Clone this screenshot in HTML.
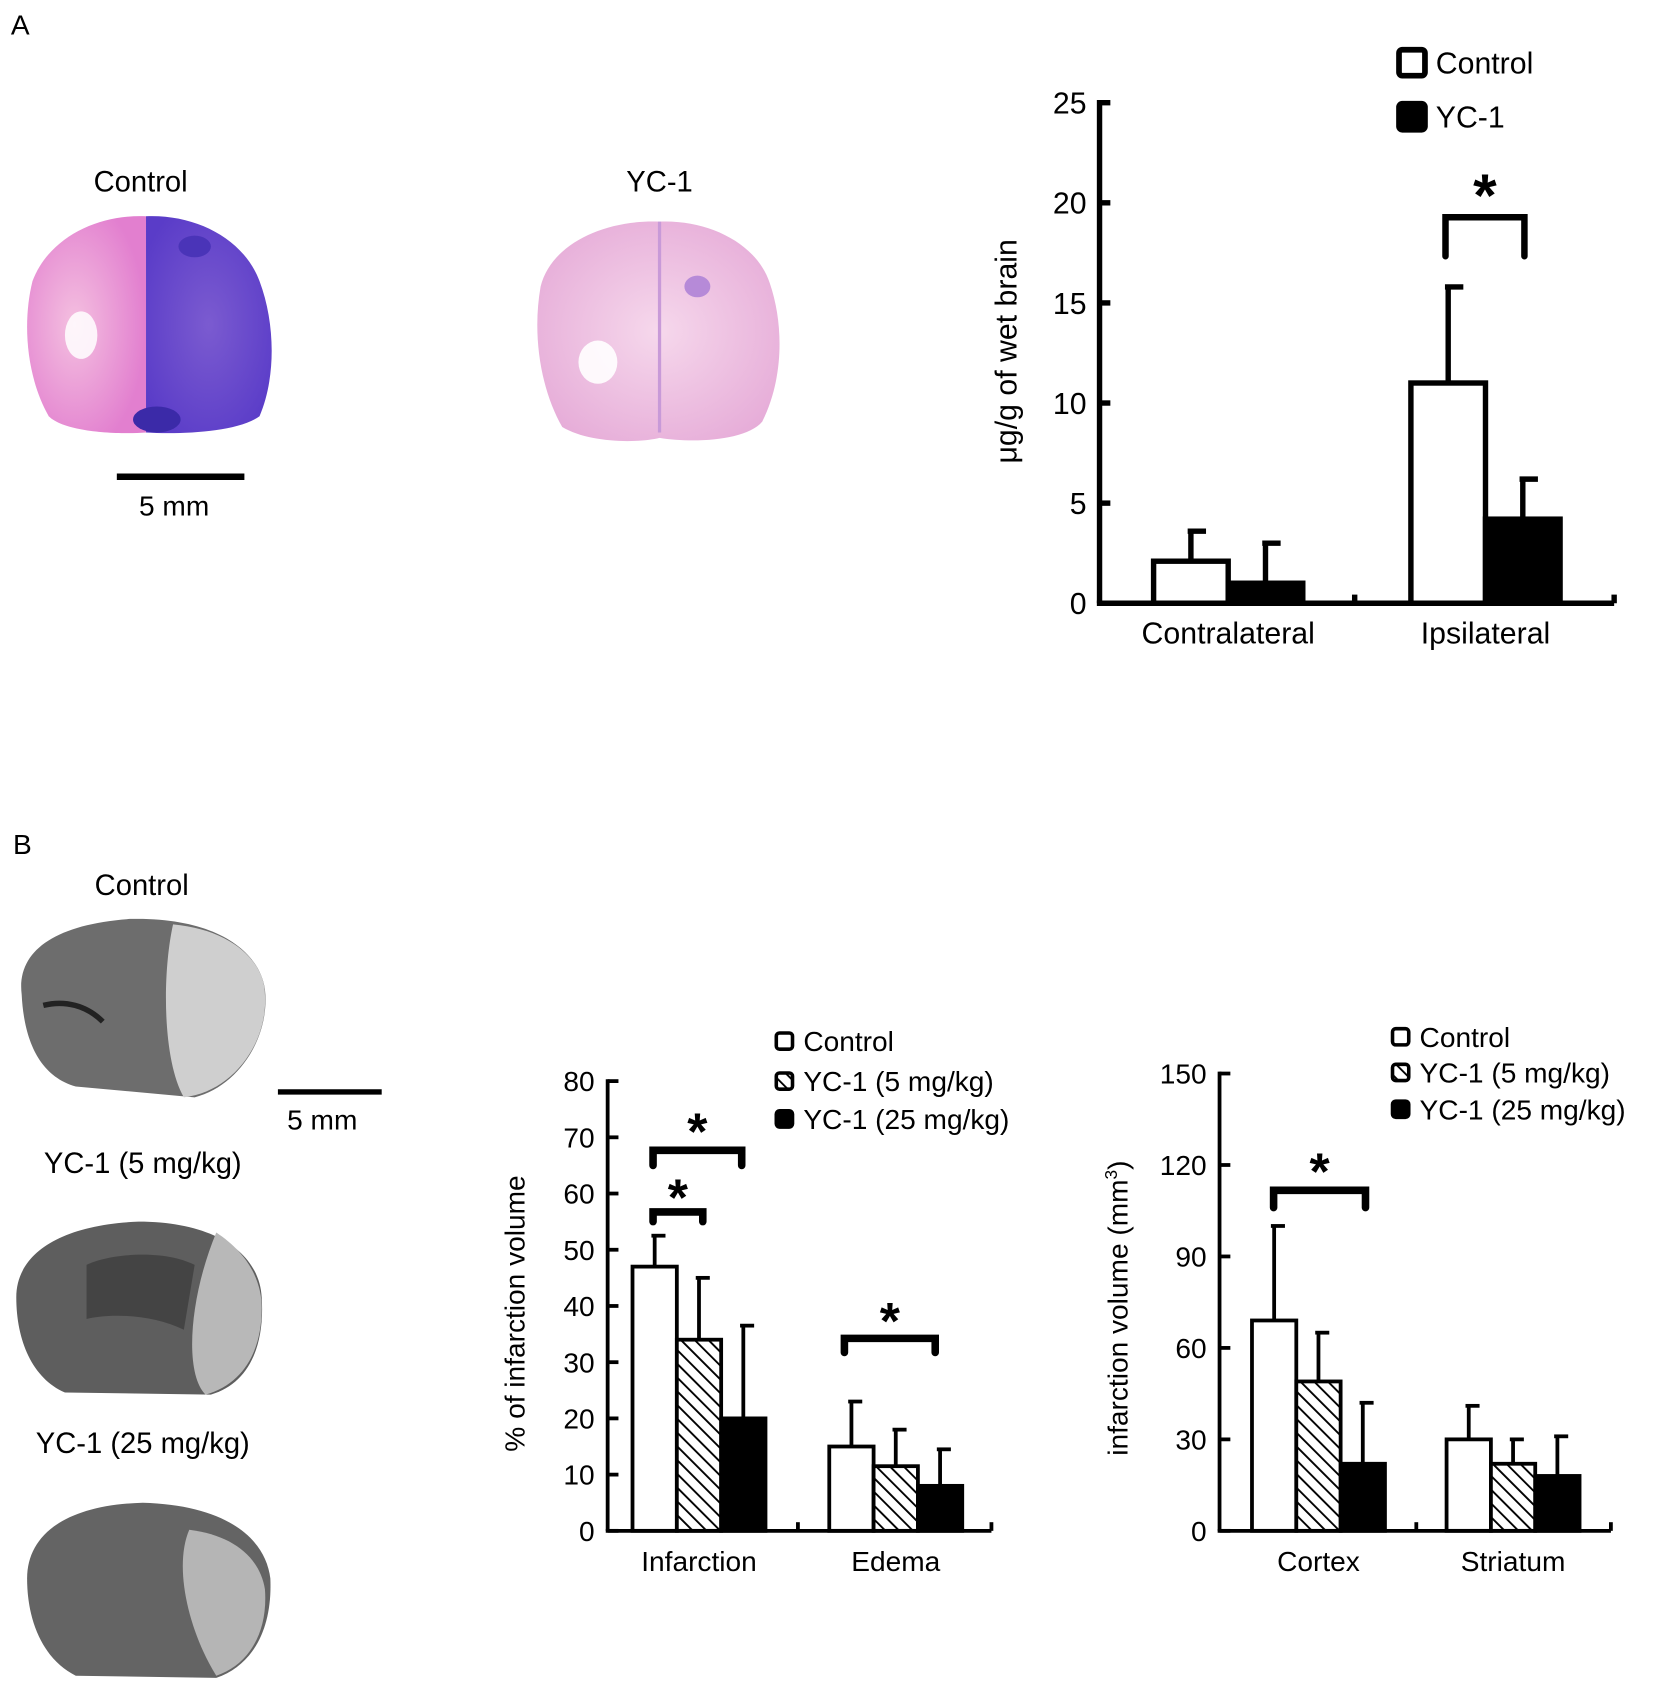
<!DOCTYPE html>
<html><head><meta charset="utf-8">
<style>
html,body{margin:0;padding:0;background:#fff;}
svg{display:block;font-family:"Liberation Sans",Arial,sans-serif;}
</style></head>
<body>
<svg id="fig" width="1678" height="1693" viewBox="0 0 1552 1566" xmlns="http://www.w3.org/2000/svg">
<defs>
<pattern id="hatch" patternUnits="userSpaceOnUse" width="9" height="9" patternTransform="rotate(-45)">
<rect width="9" height="9" fill="#fff"/><line x1="0" y1="0" x2="0" y2="9" stroke="#000" stroke-width="3.5"/>
</pattern>
<radialGradient id="pink" cx="0.4" cy="0.5" r="0.6"><stop offset="0" stop-color="#f4c0e0"/><stop offset="1" stop-color="#e27fcf"/></radialGradient>
<radialGradient id="blue" cx="0.5" cy="0.5" r="0.6"><stop offset="0" stop-color="#7b5bd0"/><stop offset="1" stop-color="#5a3cc8"/></radialGradient>
<radialGradient id="pale" cx="0.5" cy="0.5" r="0.6"><stop offset="0" stop-color="#f6d8ec"/><stop offset="1" stop-color="#e6acd8"/></radialGradient>
</defs>

<text x="10" y="32" font-size="26">A</text>
<text x="12" y="790" font-size="26">B</text>

<g>
<text x="130" y="177" font-size="27" text-anchor="middle">Control</text>
<path d="M135,200 C90,198 45,220 30,260 C20,300 25,350 45,385 C60,400 110,402 135,400 Z" fill="url(#pink)"/>
<path d="M135,200 C180,198 225,220 240,260 C255,300 255,350 240,385 C220,400 165,402 135,400 Z" fill="url(#blue)"/>
<ellipse cx="180" cy="228" rx="15" ry="10" fill="#4a34b8"/>
<ellipse cx="145" cy="388" rx="22" ry="12" fill="#3b2aa8"/>
<ellipse cx="75" cy="310" rx="15" ry="22" fill="#fff" opacity="0.85"/>
</g>
<g>
<text x="610" y="177" font-size="27" text-anchor="middle">YC-1</text>
<path d="M610,205 C560,203 510,225 500,265 C492,310 500,360 520,395 C545,410 590,410 610,405 C640,410 690,408 705,390 C725,350 725,300 712,262 C700,225 655,203 610,205 Z" fill="url(#pale)"/>
<ellipse cx="645" cy="265" rx="12" ry="10" fill="#b68ad8"/>
<path d="M610,205 L610,400" stroke="#c89ad8" stroke-width="3"/>
<ellipse cx="553" cy="335" rx="18" ry="20" fill="#fff" opacity="0.9"/>
</g>
<g>
<line x1="108" y1="441" x2="226" y2="441" stroke="#000" stroke-width="6"/>
<text x="161" y="477" font-size="26" text-anchor="middle">5 mm</text>
</g>

<g>
<text x="131" y="828" font-size="27" text-anchor="middle">Control</text>
<path d="M20,920 C15,880 50,855 120,850 C200,848 240,880 245,915 C250,960 220,1005 180,1015 L70,1005 C35,995 22,960 20,920 Z" fill="#6d6d6d"/>
<path d="M160,855 C215,860 245,890 245,920 C248,965 215,1010 170,1015 C150,980 150,900 160,855 Z" fill="#cfcfcf"/>
<path d="M40,930 C60,925 80,930 95,945" stroke="#222" stroke-width="5" fill="none"/>
<line x1="257" y1="1010" x2="353" y2="1010" stroke="#000" stroke-width="5"/>
<text x="298" y="1045" font-size="26" text-anchor="middle">5 mm</text>
<text x="132" y="1085" font-size="27" text-anchor="middle">YC-1 (5 mg/kg)</text>
<path d="M15,1200 C15,1160 55,1133 128,1130 C200,1130 240,1160 242,1200 C245,1245 230,1280 195,1290 L60,1288 C30,1275 15,1240 15,1200 Z" fill="#5e5e5e"/>
<path d="M200,1140 C230,1160 242,1185 242,1210 C242,1250 225,1280 190,1290 C170,1270 175,1200 200,1140 Z" fill="#b8b8b8"/>
<path d="M80,1170 C100,1160 150,1155 180,1170 L170,1230 C140,1215 100,1215 80,1220 Z" fill="#333" opacity="0.6"/>
<text x="132" y="1344" font-size="27" text-anchor="middle">YC-1 (25 mg/kg)</text>
<path d="M25,1460 C25,1420 60,1392 132,1390 C205,1392 245,1420 250,1460 C252,1505 235,1540 200,1552 L70,1550 C40,1535 25,1500 25,1460 Z" fill="#646464"/>
<path d="M175,1415 C215,1420 240,1440 245,1470 C248,1510 230,1540 200,1550 C175,1510 160,1450 175,1415 Z" fill="#b5b5b5"/>
</g>

<g id="charts"></g>
</svg>
<script>
// ---------- Chart A data ----------
const aCategories = ["Contralateral", "Ipsilateral"];
const aControl = [2.1, 11.0];
const aControlErr = [3.6, 15.8];
const aYC1 = [1.0, 4.2];
const aYC1Err = [3.0, 6.2];
const aTicks = [0, 5, 10, 15, 20, 25];

// ---------- Chart B1 data ----------
const b1Categories = ["Infarction", "Edema"];
const b1Control = [47, 15];
const b1ControlErr = [52.5, 23];
const b1Low = [34, 11.5];
const b1LowErr = [45, 18];
const b1High = [20, 8];
const b1HighErr = [36.5, 14.5];
const b1Ticks = [0, 10, 20, 30, 40, 50, 60, 70, 80];

// ---------- Chart B2 data ----------
const b2Categories = ["Cortex", "Striatum"];
const b2Control = [69, 30];
const b2ControlErr = [100, 41];
const b2Low = [49, 22];
const b2LowErr = [65, 30];
const b2High = [22, 18];
const b2HighErr = [42, 31];
const b2Ticks = [0, 30, 60, 90, 120, 150];

const NS = "http://www.w3.org/2000/svg";
const root = document.getElementById("charts");
function mk(tag, attrs, parent) {
  const e = document.createElementNS(NS, tag);
  for (const k in attrs) e.setAttribute(k, attrs[k]);
  (parent || root).appendChild(e);
  return e;
}

function chart(cfg) {
  const g = mk("g", {});
  
  
  const y = v => cfg.y0 - (v - cfg.ticks[0]) / (cfg.ticks[cfg.ticks.length-1] - cfg.ticks[0]) * (cfg.y0 - cfg.yTop);
  const sw = cfg.sw;
  cfg.series.forEach((s, si) => {
    s.vals.forEach((v, ci) => {
      const x = cfg.groupX[ci] + si * cfg.barW;
      const ey = y(s.err[ci]);
      const eb = mk("g", {}, g);
      
      
      mk("line", {x1: x + cfg.barW/2, x2: x + cfg.barW/2, y1: y(v), y2: ey, stroke: "#000", "stroke-width": sw}, eb);
      mk("line", {x1: x + cfg.barW/2 - 3, x2: x + cfg.barW/2 + cfg.capW, y1: ey, y2: ey, stroke: "#000", "stroke-width": sw}, eb);
      const r = mk("rect", {x: x, y: y(v), width: cfg.barW, height: cfg.y0 - y(v), fill: s.fill, stroke: "#000", "stroke-width": sw}, g);
      
      
    });
  });
  const ax = mk("g", {}, g);
  
  
  mk("line", {x1: cfg.x0, x2: cfg.x0, y1: cfg.yTop - sw/2, y2: cfg.y0, stroke: "#000", "stroke-width": sw}, ax);
  mk("line", {x1: cfg.x0 - sw/2, x2: cfg.xEnd, y1: cfg.y0, y2: cfg.y0, stroke: "#000", "stroke-width": sw}, ax);
  cfg.xTicks.forEach(xt => mk("line", {x1: xt, x2: xt, y1: cfg.y0, y2: cfg.y0 - 8, stroke: "#000", "stroke-width": sw}, ax));
  cfg.ticks.forEach(t => {
    mk("line", {x1: cfg.x0, x2: cfg.x0 + 10, y1: y(t), y2: y(t), stroke: "#000", "stroke-width": sw}, ax);
    const tx = mk("text", {x: cfg.x0 - 12, y: y(t) + cfg.fs*0.36, "font-size": cfg.fs, "text-anchor": "end"}, ax);
    tx.textContent = t;
    
    
  });
  cfg.cats.forEach((c, ci) => {
    const tx = mk("text", {x: cfg.groupX[ci] + cfg.barW * cfg.series.length / 2, y: cfg.y0 + 37, "font-size": cfg.fs, "text-anchor": "middle"}, ax);
    tx.textContent = c;
    
    
  });
  const yl = mk("text", {x: 0, y: 0, "font-size": cfg.fs, "text-anchor": "middle", transform: `translate(${cfg.ylX},${cfg.ylY}) rotate(-90)`}, ax);
  yl.innerHTML = cfg.ylabel;
  
  
  cfg.brackets.forEach(b => {
    const bg = mk("g", {}, g);
    
    
    mk("path", {d: `M${b.x1},${b.yb + b.leg} V${b.yb} H${b.x2} V${b.yb + b.leg}`, fill: "none", stroke: "#000", "stroke-width": b.w, "stroke-linecap": "round"}, bg);
    const st = mk("text", {x: (b.x1 + b.x2)/2, y: b.yb - b.off + b.fs*0.55, "font-size": b.fs, "font-weight": "bold", "text-anchor": "middle"}, bg);
    st.textContent = "*";
  });
  cfg.series.forEach((s, si) => {
    const lg = mk("g", {}, g);
    
    
    const ly = cfg.legY[si];
    mk("rect", {x: cfg.legX, y: ly - cfg.legBox/2, width: cfg.legBox, height: cfg.legBox, rx: 3, fill: s.fill, stroke: "#000", "stroke-width": cfg.legBox * 0.22}, lg);
    const t = mk("text", {x: cfg.legX + cfg.legBox + 10, y: ly + cfg.legFs*0.36, "font-size": cfg.legFs}, lg);
    t.textContent = s.label;
  });
}

chart({
  name: "chart-evans-blue", x0: 1017, xEnd: 1493, y0: 558, yTop: 95, ticks: aTicks, fs: 28, sw: 5,
  groupX: [1067, 1305], barW: 69, capW: 14, cats: aCategories, xTicks: [1253, 1493],
  series: [
    {key: "control", label: "Control", vals: aControl, err: aControlErr, fill: "#fff"},
    {key: "yc1", label: "YC-1", vals: aYC1, err: aYC1Err, fill: "#000"}
  ],
  ylabel: "μg/g of wet brain", ylX: 940, ylY: 325,
  brackets: [{x1: 1337, x2: 1410, yb: 201, leg: 36, w: 6, fs: 56, off: 32}],
  legX: 1294, legY: [58, 108], legBox: 24, legFs: 28
});

chart({
  name: "chart-infarction-percent", x0: 562, xEnd: 917, y0: 1416, yTop: 1000, ticks: b1Ticks, fs: 26, sw: 3.5,
  groupX: [585, 767], barW: 41, capW: 10, cats: b1Categories, xTicks: [738, 917],
  series: [
    {key: "control", label: "Control", vals: b1Control, err: b1ControlErr, fill: "#fff"},
    {key: "yc1-5", label: "YC-1 (5 mg/kg)", vals: b1Low, err: b1LowErr, fill: "url(#hatch)"},
    {key: "yc1-25", label: "YC-1 (25 mg/kg)", vals: b1High, err: b1HighErr, fill: "#000"}
  ],
  ylabel: "% of infarction volume", ylX: 485, ylY: 1215,
  brackets: [
    {x1: 604, x2: 686, yb: 1064, leg: 14, w: 7, fs: 48, off: 27},
    {x1: 604, x2: 650, yb: 1121, leg: 9, w: 7, fs: 48, off: 23},
    {x1: 781, x2: 865, yb: 1238, leg: 13, w: 7, fs: 48, off: 26}
  ],
  legX: 718, legY: [963, 1000, 1035], legBox: 15, legFs: 26
});

chart({
  name: "chart-infarction-volume", x0: 1128, xEnd: 1490, y0: 1416, yTop: 993, ticks: b2Ticks, fs: 26, sw: 3.5,
  groupX: [1158, 1338], barW: 41, capW: 10, cats: b2Categories, xTicks: [1310, 1490],
  series: [
    {key: "control", label: "Control", vals: b2Control, err: b2ControlErr, fill: "#fff"},
    {key: "yc1-5", label: "YC-1 (5 mg/kg)", vals: b2Low, err: b2LowErr, fill: "url(#hatch)"},
    {key: "yc1-25", label: "YC-1 (25 mg/kg)", vals: b2High, err: b2HighErr, fill: "#000"}
  ],
  ylabel: "infarction volume (mm<tspan dy='-10' font-size='16'>3</tspan><tspan dy='10'>)</tspan>", ylX: 1043, ylY: 1210,
  brackets: [{x1: 1178, x2: 1263, yb: 1101, leg: 16, w: 7, fs: 48, off: 27}],
  legX: 1288, legY: [959, 992, 1026], legBox: 15, legFs: 26
});
</script>
</body></html>
